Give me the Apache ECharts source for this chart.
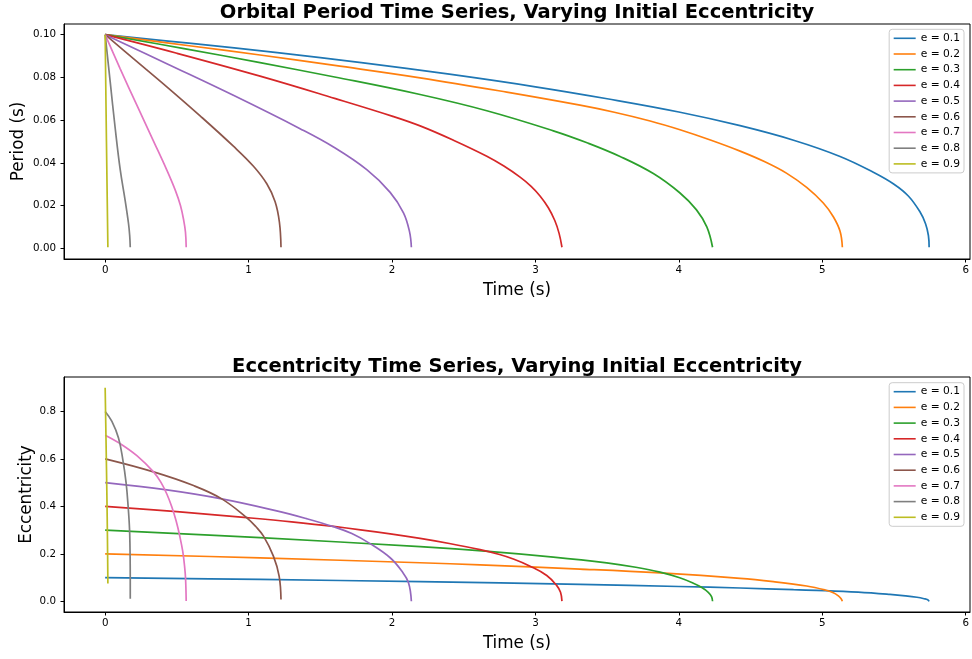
<!DOCTYPE html>
<html>
<head>
<meta charset="utf-8">
<script src="https://cdn.jsdelivr.net/npm/echarts@6/dist/echarts.min.js"></script>
<style>html,body{margin:0;padding:0;background:#fff}#c{width:972px;height:659px}</style>
</head>
<body>
<div id="c"></div>
<script>
// Legend labels / initial eccentricities
const names = ['e = 0.1','e = 0.2','e = 0.3','e = 0.4','e = 0.5','e = 0.6','e = 0.7','e = 0.8','e = 0.9'];
const colors = ['#1f77b4','#ff7f0e','#2ca02c','#d62728','#9467bd','#8c564b','#e377c2','#7f7f7f','#bcbd22'];
const xTicks = [0,1,2,3,4,5,6];
const periodTicks = [0,0.02,0.04,0.06,0.08,0.10];
const eccTicks = [0,0.2,0.4,0.6,0.8];

// Orbital period [time (s), period (s)]
const P01 = [[0,0.1],[0.6,0.0959],[1.2,0.0916],[1.8,0.0868],[2.4,0.0815],[3.0,0.0756],[3.5,0.0700],[4.0,0.0638],[4.427,0.0574],[4.8,0.0506],[5.124,0.0430],[5.356,0.0356],[5.5,0.0300],[5.6,0.0245],[5.68,0.0172],[5.72,0.0115],[5.74,0.0060],[5.745,0.0005]];
const P02 = [[0,0.1],[0.6,0.0947],[1.08,0.0905],[1.6,0.0856],[2.196,0.0798],[2.8,0.0731],[3.311,0.0670],[3.55,0.0637],[3.8,0.0596],[4.008,0.0555],[4.22,0.0507],[4.427,0.0455],[4.6,0.0405],[4.75,0.0352],[4.891,0.0285],[5.007,0.0212],[5.077,0.0148],[5.124,0.0080],[5.14,0.0005]];
const P03 = [[0,0.1],[0.55,0.0935],[1.08,0.0869],[1.6,0.0802],[2.196,0.0720],[2.661,0.0644],[3.125,0.0550],[3.36,0.0494],[3.59,0.0430],[3.822,0.0350],[4.006,0.0260],[4.123,0.0180],[4.195,0.0100],[4.235,0.0005]];
const P04 = [[0,0.1],[0.5,0.0913],[1.08,0.0806],[1.6,0.0702],[2.0,0.0619],[2.196,0.0573],[2.428,0.0506],[2.661,0.0431],[2.78,0.0385],[2.893,0.0333],[2.97,0.0290],[3.032,0.0245],[3.09,0.0190],[3.135,0.0130],[3.165,0.0070],[3.185,0.0005]];
const P05 = [[0,0.1],[0.43,0.0864],[0.894,0.0716],[1.359,0.0560],[1.592,0.0474],[1.824,0.0368],[1.987,0.0262],[2.080,0.0166],[2.122,0.0078],[2.135,0.0005]];
const P06 = [[0,0.1],[0.197,0.0888],[0.43,0.0756],[0.662,0.0620],[0.894,0.0478],[1.034,0.0384],[1.127,0.0302],[1.185,0.0218],[1.215,0.0122],[1.226,0.0005]];
const P07 = [[0,0.1],[0.105,0.0840],[0.221,0.0670],[0.337,0.0502],[0.43,0.0366],[0.49,0.0270],[0.525,0.0200],[0.548,0.0130],[0.56,0.0075],[0.565,0.0005]];
const P08 = [[0,0.1],[0.035,0.0780],[0.07,0.0562],[0.105,0.0368],[0.139,0.0226],[0.163,0.0115],[0.171,0.0060],[0.175,0.0005]];
const P09 = [[0,0.1],[0.009,0.05],[0.019,0.0005]];

// Eccentricity [time (s), e]
const E01 = [[0,0.1],[1.08,0.0921],[2.196,0.0830],[3.311,0.0715],[4.0,0.0625],[4.427,0.0560],[4.8,0.0490],[5.02,0.0450],[5.25,0.0385],[5.472,0.0290],[5.58,0.0230],[5.66,0.0170],[5.71,0.0110],[5.735,0.0065],[5.745,0.0]];
const E02 = [[0,0.2],[1.08,0.183],[2.196,0.1625],[2.614,0.1535],[3.311,0.1360],[3.869,0.1195],[4.427,0.0970],[4.659,0.0830],[4.891,0.0645],[5.02,0.0478],[5.077,0.0365],[5.11,0.0240],[5.13,0.0120],[5.14,0.0]];
const E03 = [[0,0.3],[1.08,0.268],[2.196,0.2305],[2.65,0.2115],[3.125,0.1865],[3.497,0.1620],[3.7,0.1435],[3.869,0.1230],[4.006,0.0990],[4.101,0.0760],[4.16,0.0580],[4.205,0.0380],[4.228,0.0200],[4.235,0.0]];
const E04 = [[0,0.4],[0.5,0.3775],[0.988,0.3525],[1.3,0.3350],[1.592,0.3155],[2.0,0.2830],[2.196,0.2650],[2.4,0.2435],[2.614,0.2175],[2.75,0.1970],[2.846,0.1780],[2.963,0.1480],[3.079,0.1090],[3.149,0.0660],[3.175,0.0380],[3.185,0.001]];
const E05 = [[0,0.5],[0.43,0.4694],[0.813,0.4316],[1.196,0.3810],[1.4,0.3490],[1.592,0.3145],[1.72,0.2855],[1.847,0.2430],[1.987,0.1835],[2.068,0.1275],[2.115,0.0785],[2.135,0.0]];
const E06 = [[0,0.6],[0.337,0.5452],[0.616,0.4876],[0.813,0.4316],[0.988,0.3518],[1.05,0.3150],[1.104,0.2745],[1.173,0.1905],[1.213,0.1065],[1.226,0.008]];
const E07 = [[0,0.7],[0.105,0.6642],[0.221,0.6137],[0.337,0.5452],[0.39,0.5000],[0.43,0.4520],[0.465,0.3970],[0.495,0.3380],[0.52,0.2750],[0.541,0.2100],[0.555,0.1400],[0.561,0.0900],[0.565,0.001]];
const E08 = [[0,0.8],[0.047,0.758],[0.093,0.688],[0.123,0.597],[0.146,0.499],[0.160,0.401],[0.170,0.303],[0.174,0.190],[0.175,0.092],[0.175,0.011]];
const E09 = [[0,0.9],[0.006,0.68],[0.012,0.45],[0.016,0.26],[0.019,0.075]];

const periodData = [P01,P02,P03,P04,P05,P06,P07,P08,P09];
const eccData = [E01,E02,E03,E04,E05,E06,E07,E08,E09];

const FONT = 'DejaVu Sans';
function xAxisCfg(idx){
  return {
    type:'value', gridIndex: idx, min:-0.287, max:6.03,
    name:'Time (s)', nameLocation:'middle', nameGap:23, nameMoveOverlap:false,
    nameTextStyle:{fontFamily:FONT,fontSize:16.8,color:'#000'},
    axisLine:{show:true,onZero:false,lineStyle:{color:'#000',width:1}},
    axisTick:{show:true,length:3.5,lineStyle:{color:'#000'},customValues:xTicks},
    axisLabel:{fontFamily:FONT,fontSize:10.3,color:'#000',margin:6,customValues:xTicks,formatter:v=>String(v)},
    splitLine:{show:false}
  };
}
function yAxisCfg(idx,name,min,max,ticks,dec,gap){
  return {
    type:'value', gridIndex: idx, min:min, max:max,
    name:name, nameLocation:'middle', nameGap:gap, nameMoveOverlap:false,
    nameTextStyle:{fontFamily:FONT,fontSize:16.8,color:'#000'},
    axisLine:{show:true,onZero:false,lineStyle:{color:'#000',width:1}},
    axisTick:{show:true,length:3.5,lineStyle:{color:'#000'},customValues:ticks},
    axisLabel:{fontFamily:FONT,fontSize:10.3,color:'#000',margin:8,customValues:ticks,formatter:v=>v.toFixed(dec)},
    splitLine:{show:false}
  };
}
function legendCfg(top){
  return {
    data:names, orient:'vertical', right:8, top:top,
    itemWidth:22, itemHeight:14, itemGap:1.7, itemTextGap:8,
    padding:[2,4,2,4.5],
    backgroundColor:'rgba(255,255,255,0.8)', borderColor:'#cccccc', borderWidth:1, borderRadius:3,
    textStyle:{fontFamily:FONT,fontSize:10.7,color:'#000',lineHeight:14},
    icon:'path://M0,0 L22,0 L22,1.6 L0,1.6 Z'
  };
}
function mkSeries(d,i,axis){
  return {type:'line',name:names[i],xAxisIndex:axis,yAxisIndex:axis,data:d,symbol:'none',
    smooth:0.4,lineStyle:{width:1.7,color:colors[i]},itemStyle:{color:colors[i]},animation:false};
}
const series = [];
periodData.forEach((d,i)=>series.push(mkSeries(d,i,0)));
eccData.forEach((d,i)=>series.push(mkSeries(d,i,1)));

const chart = echarts.init(document.getElementById('c'),null,{renderer:'canvas'});
chart.setOption({
  animation:false,
  backgroundColor:'#fff',
  title:[
    {text:'Orbital Period Time Series, Varying Initial Eccentricity',left:517,top:3,textAlign:'center',padding:0,textStyle:{fontFamily:FONT,fontWeight:'bold',fontSize:19.5,color:'#000'}},
    {text:'Eccentricity Time Series, Varying Initial Eccentricity',left:517,top:357,textAlign:'center',padding:0,textStyle:{fontFamily:FONT,fontWeight:'bold',fontSize:19.5,color:'#000'}}
  ],
  grid:[
    {left:64,top:24,width:906,height:235,show:true,borderColor:'#000',borderWidth:1,backgroundColor:'transparent',containLabel:false,outerBoundsMode:'none'},
    {left:64,top:377,width:906,height:235,show:true,borderColor:'#000',borderWidth:1,backgroundColor:'transparent',containLabel:false,outerBoundsMode:'none'}
  ],
  xAxis:[xAxisCfg(0),xAxisCfg(1)],
  yAxis:[yAxisCfg(0,'Period (s)',-0.005,0.105,periodTicks,2,37),yAxisCfg(1,'Eccentricity',-0.045,0.945,eccTicks,1,29)],
  legend:[legendCfg(29.3),legendCfg(382.7)],
  series:series
});
</script>
</body>
</html>
